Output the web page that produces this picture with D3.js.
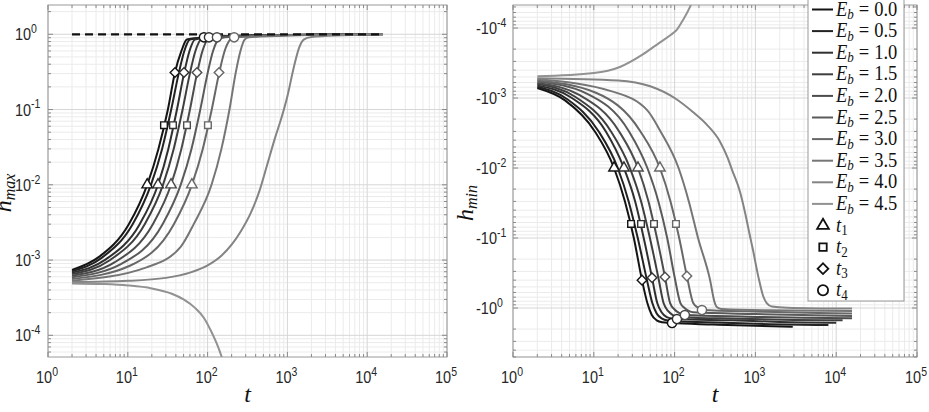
<!DOCTYPE html>
<html>
<head>
	<meta charset="utf-8">
	<script src="https://cdn.jsdelivr.net/npm/d3@7"></script>
	<style>
		body { margin: 0; background: #fff; }
		text { font-family: 'Liberation Sans', Arial, sans-serif; fill: #262626; }
		.tex { font-family: 'Liberation Serif', 'Times New Roman', serif; fill: #111; }
	</style>
	<title>h_max and h_min against t</title>
</head>
<body>
	<script>
		// E_b of every series
		var eb_values = [0.0, 0.5, 1.0, 1.5, 2.0, 2.5, 3.0, 3.5, 4.0, 4.5];

		// h_max(t), left panel, [t, h]
		var hmax_00 = [[2,7.4e-4],[4.4,1.11e-3],[10.3,3e-3],[17.5,0.01],[24.2,0.03],[31.8,0.1],[39,0.31],[47,0.6],[55,0.85],[90,0.91],[200,0.95],[1000,0.98],[2900,0.99]];
		var hmax_05 = [[2,7.1e-4],[4.7,1.07e-3],[11.5,3e-3],[19.5,0.01],[26.9,0.03],[35,0.1],[43.4,0.3],[51.1,0.6],[60,0.85],[96,0.91],[210,0.95],[1050,0.98],[8000,0.995]];
		var hmax_10 = [[2,6.8e-4],[5.3,1.02e-3],[14.1,3e-3],[23.9,0.01],[32.2,0.03],[41.3,0.1],[50.6,0.3],[59.3,0.6],[69.2,0.85],[104,0.91],[230,0.95],[1100,0.98],[10000,0.995]];
		var hmax_15 = [[2,6.5e-4],[5.8,9.8e-4],[16.3,3e-3],[27.6,0.01],[37.6,0.03],[48.6,0.1],[59.9,0.3],[70.4,0.6],[82.4,0.85],[115,0.91],[260,0.95],[1200,0.98],[12000,0.995]];
		var hmax_20 = [[2,6.2e-4],[6.8,9.3e-4],[20.6,3e-3],[34.8,0.01],[46.9,0.03],[60.1,0.1],[73.6,0.3],[86.2,0.6],[100.7,0.85],[131,0.91],[300,0.95],[1300,0.98],[15700,1.0]];
		var hmax_25 = [[2,5.9e-4],[8.3,8.9e-4],[27.3,3e-3],[46,0.01],[62.8,0.03],[81,0.1],[99.8,0.3],[117,0.6],[137,0.85],[165,0.91],[370,0.95],[1500,0.98],[15700,1.0]];
		var hmax_30 = [[2,5.6e-4],[10.6,8.4e-4],[37.8,3e-3],[63.5,0.01],[87,0.03],[112.7,0.1],[139,0.3],[163.5,0.6],[191.5,0.85],[215,0.91],[450,0.95],[1800,0.98],[15700,1.0]];
		var hmax_35 = [[2,5.3e-4],[17.2,8e-4],[46,1.5e-3],[67,3e-3],[112,0.01],[149,0.03],[188,0.1],[224,0.3],[258,0.6],[291,0.85],[330,0.91],[700,0.95],[2500,0.98],[15700,1.0]];
		var hmax_40 = [[2,5.1e-4],[10,5.3e-4],[30,5.8e-4],[60,6.8e-4],[100,8.5e-4],[150,1.15e-3],[200,1.6e-3],[260,2.4e-3],[350,4.3e-3],[450,8.5e-3],[550,0.0175],[700,0.042],[850,0.08],[1000,0.15],[1200,0.36],[1400,0.66],[1600,0.85],[2000,0.92],[5000,0.97],[15700,1.0]];
		var hmax_45 = [[2,4.9e-4],[5,4.8e-4],[10,4.6e-4],[20,4.2e-4],[35,3.6e-4],[50,3.0e-4],[70,2.3e-4],[90,1.7e-4],[110,1.15e-4],[130,7.8e-5],[150,5.2e-5],[170,3.4e-5]];

		// h_min(t), right panel, [t, h]
		var hmin_00 = [[2,-7.2e-4],[4.4,-1.08e-3],[10.3,-3e-3],[17.8,-0.01],[24.3,-0.03],[31.3,-0.1],[39.5,-0.4],[46,-0.85],[52,-1.25],[60,-1.5],[70,-1.6],[93,-1.64],[300,-1.72],[1000,-1.8],[2900,-1.86]];
		var hmin_05 = [[2,-6.9e-4],[4.7,-1.04e-3],[11.5,-3e-3],[19.8,-0.01],[27,-0.03],[35,-0.1],[45.5,-0.4],[53,-0.85],[60,-1.2],[70,-1.42],[85,-1.52],[100,-1.55],[400,-1.62],[1500,-1.7],[8000,-1.75]];
		var hmin_10 = [[2,-6.6e-4],[5.3,-9.9e-4],[14.1,-3e-3],[23.6,-0.01],[32.5,-0.03],[41.5,-0.1],[52.6,-0.37],[61,-0.85],[69,-1.15],[80,-1.35],[95,-1.42],[107,-1.44],[500,-1.5],[2000,-1.58],[10000,-1.62]];
		var hmin_15 = [[2,-6.3e-4],[5.8,-9.5e-4],[16.3,-3e-3],[28,-0.01],[38.5,-0.03],[49.5,-0.1],[63,-0.37],[73,-0.85],[83,-1.1],[96,-1.27],[110,-1.33],[120,-1.35],[600,-1.42],[3000,-1.48],[12000,-1.5]];
		var hmin_20 = [[2,-6.1e-4],[6.8,-9.2e-4],[20.6,-3e-3],[35.2,-0.01],[47.5,-0.03],[60.5,-0.1],[76,-0.36],[88,-0.85],[100,-1.05],[115,-1.18],[128,-1.24],[134,-1.26],[800,-1.33],[4000,-1.38],[15700,-1.4]];
		var hmin_25 = [[2,-5.8e-4],[8.3,-8.7e-4],[27.3,-3e-3],[46,-0.01],[63,-0.03],[81,-0.1],[100,-0.36],[118,-0.85],[133,-1.0],[150,-1.1],[170,-1.15],[1000,-1.22],[5000,-1.27],[15700,-1.3]];
		var hmin_30 = [[2,-5.6e-4],[10.6,-8.4e-4],[37.8,-3e-3],[65.8,-0.01],[89,-0.03],[114,-0.1],[142,-0.35],[170,-0.85],[195,-0.99],[210,-1.05],[218,-1.07],[1200,-1.13],[6000,-1.18],[15700,-1.2]];
		var hmin_35 = [[2,-5.4e-4],[17.2,-8.1e-4],[46,-1.5e-3],[67,-3e-3],[112,-0.01],[150,-0.03],[195,-0.1],[275,-0.4],[310,-0.8],[333,-0.97],[380,-1.03],[1500,-1.08],[15700,-1.1]];
		var hmin_40 = [[2,-5.2e-4],[20,-5.6e-4],[50,-6.8e-4],[100,-1.0e-3],[170,-1.6e-3],[250,-2.4e-3],[365,-4.2e-3],[450,-7e-3],[515,-0.0107],[646,-0.022],[750,-0.045],[850,-0.09],[935,-0.15],[1100,-0.38],[1250,-0.68],[1380,-0.85],[1600,-0.95],[2500,-0.99],[15700,-1.02]];
		var hmin_45 = [[2,-4.9e-4],[10,-4.4e-4],[21,-3.6e-4],[40,-2.4e-4],[66,-1.6e-4],[90,-1.25e-4],[107,-1.05e-4],[127,-7.7e-5],[155,-5e-5],[175,-3.5e-5]];

		// h_max = 1 reference (dashed)
		var hmax_limit = [[2,1],[15500,1]];

		// marked times t1..t4 (on E_b = 0, 1, 2, 3)
		var marked_series = [0, 2, 4, 6];
		var left_t1 = [17.5, 23.9, 34.8, 63.5], left_h1 = [0.01, 0.01, 0.01, 0.01];
		var left_t2 = [28.4, 36.8, 55.2, 101], left_h2 = [0.062, 0.062, 0.062, 0.062];
		var left_t3 = [39, 50.6, 73.6, 139], left_h3 = [0.31, 0.31, 0.31, 0.31];
		var left_t4 = [90, 104, 131, 215], left_h4 = [0.91, 0.91, 0.91, 0.91];
		var right_t1 = [17.8, 23.6, 35.2, 65.8], right_h1 = [-0.01, -0.01, -0.01, -0.01];
		var right_t2 = [28.9, 38.4, 55.6, 104], right_h2 = [-0.063, -0.063, -0.063, -0.063];
		var right_t3 = [39.5, 52.6, 76, 142], right_h3 = [-0.40, -0.37, -0.36, -0.35];
		var right_t4 = [93, 107, 134, 218], right_h4 = [-1.64, -1.44, -1.26, -1.07];

		// tick values and labels
		var x_ticks = [1, 10, 100, 1000, 10000, 100000];
		var x_tick_exp = ["0", "1", "2", "3", "4", "5"];
		var left_y_ticks = [1e-4, 1e-3, 1e-2, 1e-1, 1];
		var left_y_exp = ["-4", "-3", "-2", "-1", "0"];
		var right_y_ticks = [-1e-4, -1e-3, -1e-2, -1e-1, -1];
		var right_y_exp = ["-4", "-3", "-2", "-1", "0"];
		var marker_names = ["1", "2", "3", "4"];

		var hmax_series = [hmax_00, hmax_05, hmax_10, hmax_15, hmax_20, hmax_25, hmax_30, hmax_35, hmax_40, hmax_45];
		var hmin_series = [hmin_00, hmin_05, hmin_10, hmin_15, hmin_20, hmin_25, hmin_30, hmin_35, hmin_40, hmin_45];

		var width = 929, height = 412;
		var gray = d3.interpolateRgb("#141414", "#929292");
		var colors = eb_values.map((d, i) => gray(i / (eb_values.length - 1)));
		// triangle, square, diamond (rotated square), circle
		var symbols = [d3.symbolTriangle, d3.symbolSquare, d3.symbolSquare, d3.symbolCircle];
		var symbol_rot = [0, 0, 45, 0];
		var symbol_size = [48, 44, 46, 66];

		var svg = d3.select('body').append('svg')
			.attr('width', width)
			.attr('height', height);
		svg.append('rect').attr('width', width).attr('height', height).attr('fill', '#fff');

		// scales
		var left_x = d3.scaleLog().domain([1, 1e5]).range([48, 447]);
		var left_y = d3.scaleLog().domain([Math.pow(10, 0.389), Math.pow(10, -4.288)]).range([5, 357]);
		var right_x = d3.scaleLog().domain([1, 1e5]).range([513, 917]);
		var right_y = d3.scaleLog().domain([-Math.pow(10, -4.329), -Math.pow(10, 0.7)]).range([5, 357]);

		// minor values 2..9 x 10^k inside [lo, hi] (positive)
		function minor_values(lo, hi) {
			var vals = [];
			for (var e = Math.floor(Math.log10(lo)) - 1; e <= Math.ceil(Math.log10(hi)); e++) {
				for (var m = 2; m <= 9; m++) {
					var v = m * Math.pow(10, e);
					if (v > lo * 1.0001 && v < hi * 0.9999) vals.push(v);
				}
			}
			return vals;
		}

		// "10^k" label, slightly tall like the source figure
		function exp_label(g, x, y, base, exp, anchor) {
			var t = g.append('text').attr('transform', `translate(${x},${y}) scale(1,1.2)`)
				.attr('text-anchor', anchor).style('font-size', '14.5px');
			t.append('tspan').text(base);
			t.append('tspan').attr('dy', -6).style('font-size', '10.5px').text(exp);
		}

		function draw_panel(id, xs, ys, y_ticks, y_exp, y_sign, y_label_x, series, dashed, marks) {
			var x0 = xs.range()[0], x1 = xs.range()[1];
			var y0 = ys.range()[0], y1 = ys.range()[1];
			var g = svg.append('g');
			var yd = ys.domain().map(Math.abs);
			var y_lo = Math.min(yd[0], yd[1]), y_hi = Math.max(yd[0], yd[1]);
			var x_minor = minor_values(1, 1e5);
			var y_minor = minor_values(y_lo, y_hi).map(v => y_sign * v);
			var y_major = y_ticks;

			// grid
			g.selectAll('.xminor').data(x_minor).enter().append('line')
				.attr('x1', d => xs(d)).attr('x2', d => xs(d)).attr('y1', y0).attr('y2', y1)
				.attr('stroke', '#ebebeb').attr('stroke-width', 1);
			g.selectAll('.yminor').data(y_minor).enter().append('line')
				.attr('y1', d => ys(d)).attr('y2', d => ys(d)).attr('x1', x0).attr('x2', x1)
				.attr('stroke', '#ebebeb').attr('stroke-width', 1);
			g.selectAll('.xmajor').data(x_ticks).enter().append('line')
				.attr('x1', d => xs(d)).attr('x2', d => xs(d)).attr('y1', y0).attr('y2', y1)
				.attr('stroke', '#d6d6d6').attr('stroke-width', 1);
			g.selectAll('.ymajor').data(y_major).enter().append('line')
				.attr('y1', d => ys(d)).attr('y2', d => ys(d)).attr('x1', x0).attr('x2', x1)
				.attr('stroke', '#d6d6d6').attr('stroke-width', 1);

			// curves
			g.append('clipPath').attr('id', 'clip' + id).append('rect')
				.attr('x', x0).attr('y', y0).attr('width', x1 - x0).attr('height', y1 - y0);
			var line = d3.line().x(d => xs(d[0])).y(d => ys(d[1])).curve(d3.curveMonotoneX);
			var plot = g.append('g').attr('clip-path', 'url(#clip' + id + ')');
			series.forEach(function (s, i) {
				plot.append('path').attr('d', line(s)).attr('fill', 'none')
					.attr('stroke', colors[i]).attr('stroke-width', 2);
			});
			if (dashed) {
				plot.append('path').attr('d', d3.line().x(d => xs(d[0])).y(d => ys(d[1]))(dashed))
					.attr('fill', 'none').attr('stroke', '#111').attr('stroke-width', 2.2)
					.attr('stroke-dasharray', '8,5');
			}
			// markers
			marks.forEach(function (m, k) {
				m.t.forEach(function (t, j) {
					plot.append('path')
						.attr('d', d3.symbol().type(symbols[k]).size(symbol_size[k])())
						.attr('transform', `translate(${xs(t)},${ys(m.h[j])}) rotate(${symbol_rot[k]})`)
						.attr('fill', '#fff').attr('stroke', colors[marked_series[j]])
						.attr('stroke-width', 1.4);
				});
			});

			// box and ticks
			g.append('rect').attr('x', x0).attr('y', y0).attr('width', x1 - x0).attr('height', y1 - y0)
				.attr('fill', 'none').attr('stroke', '#9a9a9a').attr('stroke-width', 1);
			var tk = g.append('g').attr('stroke', '#8a8a8a').attr('stroke-width', 1);
			x_minor.forEach(function (d) {
				tk.append('line').attr('x1', xs(d)).attr('x2', xs(d)).attr('y1', y1).attr('y2', y1 - 3);
				tk.append('line').attr('x1', xs(d)).attr('x2', xs(d)).attr('y1', y0).attr('y2', y0 + 3);
			});
			x_ticks.forEach(function (d) {
				tk.append('line').attr('x1', xs(d)).attr('x2', xs(d)).attr('y1', y1).attr('y2', y1 - 5);
				tk.append('line').attr('x1', xs(d)).attr('x2', xs(d)).attr('y1', y0).attr('y2', y0 + 5);
			});
			y_minor.forEach(function (d) {
				tk.append('line').attr('y1', ys(d)).attr('y2', ys(d)).attr('x1', x0).attr('x2', x0 + 3);
				tk.append('line').attr('y1', ys(d)).attr('y2', ys(d)).attr('x1', x1).attr('x2', x1 - 3);
			});
			y_major.forEach(function (d) {
				tk.append('line').attr('y1', ys(d)).attr('y2', ys(d)).attr('x1', x0).attr('x2', x0 + 5);
				tk.append('line').attr('y1', ys(d)).attr('y2', ys(d)).attr('x1', x1).attr('x2', x1 - 5);
			});

			// tick labels
			x_ticks.forEach(function (d, i) {
				exp_label(g, xs(d) - 1, 383, "10", x_tick_exp[i], 'middle');
			});
			y_ticks.forEach(function (d, i) {
				exp_label(g, y_label_x, ys(d) + 6, y_sign < 0 ? "-10" : "10", y_exp[i], 'start');
			});

			// x label
			g.append('text').attr('class', 'tex').attr('x', (x0 + x1) / 2).attr('y', 402)
				.attr('text-anchor', 'middle').style('font-size', '24px').style('font-style', 'italic').text('t');
			return g;
		}

		draw_panel('L', left_x, left_y, left_y_ticks, left_y_exp, 1, 15, hmax_series, hmax_limit, [
			{ t: left_t1, h: left_h1 }, { t: left_t2, h: left_h2 }, { t: left_t3, h: left_h3 }, { t: left_t4, h: left_h4 }]);
		draw_panel('R', right_x, right_y, right_y_ticks, right_y_exp, -1, 476, hmin_series, null, [
			{ t: right_t1, h: right_h1 }, { t: right_t2, h: right_h2 }, { t: right_t3, h: right_h3 }, { t: right_t4, h: right_h4 }]);

		// y labels
		function y_label(x, y, sub) {
			var t = svg.append('text').attr('class', 'tex')
				.attr('transform', `translate(${x},${y}) rotate(-90)`)
				.attr('text-anchor', 'middle').style('font-style', 'italic');
			t.append('tspan').style('font-size', '24px').text('h');
			t.append('tspan').attr('dy', 4).style('font-size', '16px').text(sub);
		}
		y_label(11, 193, 'max');
		y_label(473, 203, 'min');

		// legend
		var lg = svg.append('g');
		var row = k => 9.5 + k * 21.6;
		lg.append('rect').attr('x', 808).attr('y', -2).attr('width', 96).attr('height', 303)
			.attr('fill', '#fff').attr('stroke', '#999').attr('stroke-width', 1);
		eb_values.forEach(function (e, i) {
			lg.append('line').attr('x1', 812).attr('x2', 833).attr('y1', row(i)).attr('y2', row(i))
				.attr('stroke', colors[i]).attr('stroke-width', 2);
			var t = lg.append('text').attr('class', 'tex')
				.attr('transform', `translate(836,${row(i) + 6}) scale(1,1.08)`)
				.style('font-size', '18.5px');
			t.append('tspan').style('font-style', 'italic').text('E');
			t.append('tspan').attr('dy', 3.5).style('font-size', '13px').style('font-style', 'italic').text('b');
			t.append('tspan').attr('dy', -3.5).attr('dx', 5).text('=');
			t.append('tspan').attr('dx', 5).text(e.toFixed(1));
		});
		marker_names.forEach(function (n, k) {
			var y = row(eb_values.length + k);
			lg.append('path').attr('d', d3.symbol().type(symbols[k]).size(symbol_size[k] * 1.25)())
				.attr('transform', `translate(823,${y}) rotate(${symbol_rot[k]})`)
				.attr('fill', '#fff').attr('stroke', '#111').attr('stroke-width', 1.8);
			var t = lg.append('text').attr('class', 'tex')
				.attr('transform', `translate(836,${y + 6}) scale(1,1.08)`)
				.style('font-size', '18.5px');
			t.append('tspan').style('font-style', 'italic').text('t');
			t.append('tspan').attr('dy', 3.5).style('font-size', '13px').text(n);
		});
	</script>
</body>
</html>
